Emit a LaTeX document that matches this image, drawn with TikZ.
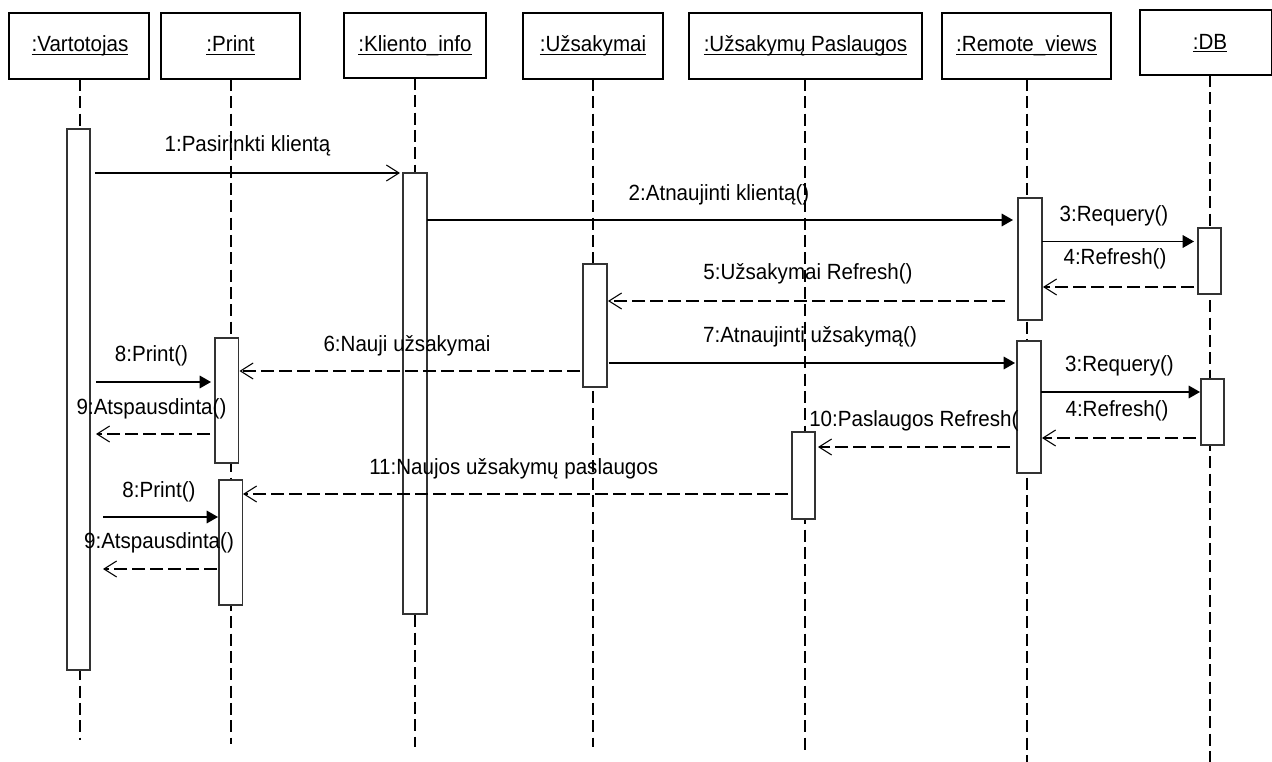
\documentclass[tikz,border=0pt]{standalone}
\usepackage{fontspec}
\setmainfont{Liberation Sans}[FakeStretch=0.935]
\usetikzlibrary{arrows.meta,fit}
\newsavebox\undlbox
\newcommand{\undl}[1]{\sbox\undlbox{#1}\rlap{\rule[-1.9pt]{\wd\undlbox}{0.7pt}}\usebox\undlbox}
\begin{document}
\begin{tikzpicture}[x=0.75pt,y=-0.75pt,
  hdrbox/.style={draw=black, line width=0.8pt, inner sep=0pt},
  actbox/.style={draw=black!80, fill=white, line width=0.9pt, inner sep=0pt},
  lifeline/.style={line width=1.4pt, dash pattern=on 9pt off 4pt},
  sync/.style={line width=0.9pt, -{Triangle[length=8.5pt,width=9.5pt]}},
  call/.style={line width=0.9pt, -{Straight Barb[length=9.5pt,width=12pt,line width=0.8pt]}},
  reply/.style={line width=1.4pt, dash pattern=on 9.5pt off 4pt, -{Straight Barb[length=9.5pt,width=12pt,line width=0.8pt]}},
  lbl/.style={font=\fontsize{16.5pt}{19pt}\selectfont, inner sep=0pt, anchor=base},
  lblw/.style={lbl, anchor=base west}
]
\useasboundingbox (0,0) rectangle (1272,762);

% header boxes
\node[hdrbox, fit={(9,13) (149,79)}] (hv) {};
\node[hdrbox, fit={(161,13) (300,79)}] (hp) {};
\node[hdrbox, fit={(344,13) (486,78)}] (hk) {};
\node[hdrbox, fit={(523,13) (663,79)}] (hu) {};
\node[hdrbox, fit={(689,13) (922,79)}] (hs) {};
\node[hdrbox, fit={(942,13) (1111,79)}] (hr) {};
\node[hdrbox, fit={(1140,10) (1271.5,75)}] (hd) {};

\node[lbl] (tv) at (80,52) {\undl{:Vartotojas}};
\node[lbl] (tp) at (230.5,52) {\undl{:Print}};
\node[lbl] (tk) at (415,52) {\undl{:Kliento\_info}};
\node[lbl] (tu) at (593,52) {\undl{:Užsakymai}};
\node[lbl] (ts) at (805.5,52) {\undl{:Užsakymų Paslaugos}};
\node[lbl] (tr) at (1026.5,52) {\undl{:Remote\_views}};
\node[lbl] (td) at (1210,49.5) {\undl{:DB}};

% lifelines
\coordinate (vtop) at (80,79);     \coordinate (vbot) at (80,740);
\coordinate (ptop) at (231,79);    \coordinate (pbot) at (231,744);
\coordinate (ktop) at (415,78);    \coordinate (kbot) at (415,747);
\coordinate (utop) at (593,79);    \coordinate (ubot) at (593,747);
\coordinate (stop) at (805,79);    \coordinate (sbot) at (805,752);
\coordinate (rtop) at (1027,79);   \coordinate (rbot) at (1027,762);
\coordinate (dtop) at (1210,75);   \coordinate (dbot) at (1210,762);
\foreach \o in {v,p,k,u,s,r,d} \draw[lifeline] (\o top) -- (\o bot);

% activation boxes
\node[actbox, fit={(67,129) (90,670)}] (vact) {};
\node[actbox, fit={(403,173) (427,614)}] (kact) {};
\node[actbox, fit={(1018,198) (1042,320)}] (ract1) {};
\node[actbox, fit={(1198,228) (1221,294)}] (dact1) {};
\node[actbox, fit={(583,264) (607,387)}] (uact) {};
\node[actbox, fit={(215,338) (238.5,463)}] (pact1) {};
\node[actbox, fit={(1017,341) (1041,473)}] (ract2) {};
\node[actbox, fit={(1201,379) (1224,445)}] (dact2) {};
\node[actbox, fit={(792,432) (815,519)}] (sact) {};
\node[actbox, fit={(219,480) (242.5,605)}] (pact2) {};

% message end points
\coordinate (m1s) at (95,173);    \coordinate (m1e) at (400,173);
\coordinate (m2s) at (427,220);   \coordinate (m2e) at (1013,220);
\coordinate (m3s) at (1042,241.5);\coordinate (m3e) at (1194,241.5);
\coordinate (m4s) at (1194,287);  \coordinate (m4e) at (1043,287);
\coordinate (m5s) at (1005,301);  \coordinate (m5e) at (608,301);
\coordinate (m6s) at (580,371);   \coordinate (m6e) at (239.5,371);
\coordinate (m7s) at (608.5,363); \coordinate (m7e) at (1015,363);
\coordinate (n3s) at (1041,392);  \coordinate (n3e) at (1200,392);
\coordinate (n4s) at (1196,438);  \coordinate (n4e) at (1042,438);
\coordinate (m10s) at (1010,447); \coordinate (m10e) at (818,447);
\coordinate (m11s) at (788,494);  \coordinate (m11e) at (243,494);
\coordinate (m8s) at (96,382);    \coordinate (m8e) at (211,382);
\coordinate (m9s) at (210,434);   \coordinate (m9e) at (96,434);
\coordinate (n8s) at (103,517);   \coordinate (n8e) at (218,517);
\coordinate (n9s) at (217,569);   \coordinate (n9e) at (103,569);

\draw[call] (m1s) -- (m1e);
\draw[sync] (m2s) -- (m2e);
\draw[sync] (m3s) -- (m3e);
\draw[reply] (m4s) -- (m4e);
\draw[reply] (m5s) -- (m5e);
\draw[reply] (m6s) -- (m6e);
\draw[sync] (m7s) -- (m7e);
\draw[sync] (n3s) -- (n3e);
\draw[reply] (n4s) -- (n4e);
\draw[reply] (m10s) -- (m10e);
\draw[reply] (m11s) -- (m11e);
\draw[sync] (m8s) -- (m8e);
\draw[reply] (m9s) -- (m9e);
\draw[sync] (n8s) -- (n8e);
\draw[reply] (n9s) -- (n9e);

% labels
\node[lbl] (l1) at (247.5,152) {1:Pasirinkti klientą};
\node[lbl] (l2) at (719,201) {2:Atnaujinti klientą()};
\node[lbl] (l3) at (1114,222) {3:Requery()};
\node[lbl] (l4) at (1115,265) {4:Refresh()};
\node[lbl] (l5) at (808,280) {5:Užsakymai Refresh()};
\node[lbl] (l6) at (407,351.5) {6:Nauji užsakymai};
\node[lbl] (l7) at (810,343) {7:Atnaujinti užsakymą()};
\node[lbl] (l8) at (151.5,361.5) {8:Print()};
\node[lbl] (l9) at (151.5,414.5) {9:Atspausdinta()};
\node[lbl] (k3) at (1119.5,372) {3:Requery()};
\node[lbl] (k4) at (1117,417) {4:Refresh()};
\node[lblw] (l10) at (809,427) {10:Paslaugos Refresh(};
\node[lblw] (l11) at (369,475) {11:Naujos užsakymų paslaugos};
\node[lbl] (k8) at (159,497.5) {8:Print()};
\node[lbl] (k9) at (159,549) {9:Atspausdinta()};
\end{tikzpicture}
\end{document}
